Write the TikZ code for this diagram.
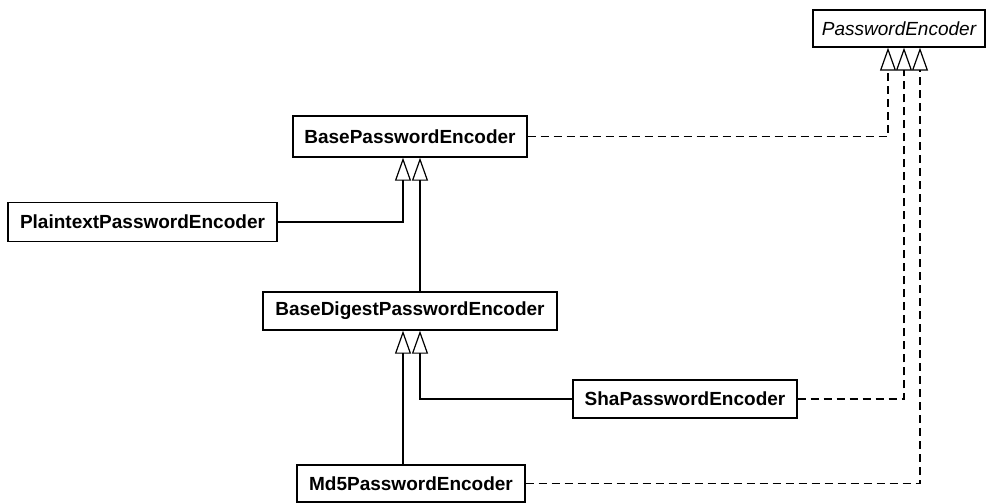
\documentclass[tikz,border=0pt]{standalone}
\usepackage{fontspec}
\setmainfont{Liberation Sans}
\usetikzlibrary{arrows.meta}
\begin{document}
\begin{tikzpicture}[x=1pt,y=-1pt,
  cls/.style={draw, line width=1.4pt, rectangle, inner sep=0pt, font=\fontsize{19}{21}\selectfont\bfseries},
  gen/.style={line width=1.3pt, -{Triangle[open, length=23pt, width=16pt, line width=1.2pt]}},
  real/.style={gen, dash pattern=on 8pt off 5pt}]
\useasboundingbox (0,0) rectangle (986,503);
\node[cls, font=\fontsize{19}{21}\selectfont\itshape, minimum width=172pt, minimum height=37pt] (pe) at (899,28.5) {PasswordEncoder};
\node[cls, minimum width=234pt, minimum height=41pt] (bpe) at (410,136.5) {BasePasswordEncoder};
\node[cls, minimum width=269pt, minimum height=39pt] (ppe) at (142.5,222) {PlaintextPasswordEncoder};
\node[cls, minimum width=294pt, minimum height=38pt] (bdpe) at (410,311) {BaseDigestPasswordEncoder};
\node[cls, minimum width=224pt, minimum height=38pt] (sha) at (685,399) {ShaPasswordEncoder};
\node[cls, minimum width=228pt, minimum height=37pt] (md5) at (411,483.5) {Md5PasswordEncoder};
\coordinate (xa) at (403,0);
\coordinate (xb) at (420,0);
\coordinate (xc) at (888,0);
\coordinate (xd) at (904,0);
\coordinate (xe) at (920,0);
\draw[gen] (ppe.east) -| (bpe.south -| xa);
\draw[gen] (bdpe.north -| xb) -- (bpe.south -| xb);
\draw[gen] (md5.north -| xa) -- (bdpe.south -| xa);
\draw[gen] (sha.west) -| (bdpe.south -| xb);
\draw[real] (bpe.east) -| (pe.south -| xc);
\draw[real] (sha.east) -| (pe.south -| xd);
\draw[real] (md5.east) -| (pe.south -| xe);
\end{tikzpicture}
\end{document}
